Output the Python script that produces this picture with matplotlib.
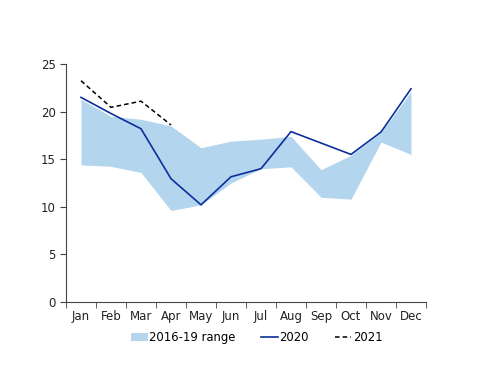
import matplotlib
matplotlib.use("Agg")
import matplotlib.pyplot as plt
import numpy as np

months = ["Jan", "Feb", "Mar", "Apr", "May", "Jun", "Jul", "Aug", "Sep", "Oct", "Nov", "Dec"]
range_low = [14.4, 14.25, 13.6, 9.6, 10.2, 12.5, 14.0, 14.2, 11.0, 10.8, 16.8, 15.5]
range_high = [21.3, 19.5, 19.2, 18.5, 16.2, 16.9, 17.1, 17.4, 13.9, 15.4, 17.8, 22.1]
y2020 = [21.5, 19.8, 18.2, 12.95, 10.2, 13.15, 14.0, 17.9, 16.7, 15.5, 17.85, 22.4]
y2021 = [23.25, 20.45, 21.1, 18.6]

plt.rcParams['font.family'] = ['DejaVu Sans']
fig = plt.figure(figsize=(5, 3.86), dpi=100)
ax = fig.add_axes([0.132, 0.218, 0.72, 0.616])

x = np.arange(len(months))
ax.fill_between(x, range_low, range_high, color='#b4d5ee', linewidth=0, label='2016-19 range')
ax.plot(x, y2020, color='#0b2f9c', linewidth=1.2, label='2020')
ax.plot(x[:len(y2021)], y2021, color='black', linewidth=1.1, linestyle=(0, (3, 2)), label='2021')

ax.set_xlim(-0.5, 11.5)
ax.set_ylim(0, 25)
ax.set_yticks([0, 5, 10, 15, 20, 25])
ax.set_xticks(x)
ax.set_xticklabels(months)
ax.set_xticks(np.arange(-0.5, 12, 1), minor=True)
ax.tick_params(axis='x', which='major', length=0, pad=6, labelsize=8.5, colors='#222222')
ax.tick_params(axis='x', which='minor', length=4, direction='out', color='#444444')
ax.tick_params(axis='y', length=4, direction='out', labelsize=8.5, colors='#222222', color='#444444')
for s in ['top', 'right']:
    ax.spines[s].set_visible(False)
for s in ['left', 'bottom']:
    ax.spines[s].set_color('#444444')

ax.legend(loc='upper center', bbox_to_anchor=(0.53, -0.08), ncol=3, frameon=False,
          fontsize=8.4, handlelength=1.4, handletextpad=0.15, columnspacing=2.2)

fig.savefig("out.png", dpi=100)
